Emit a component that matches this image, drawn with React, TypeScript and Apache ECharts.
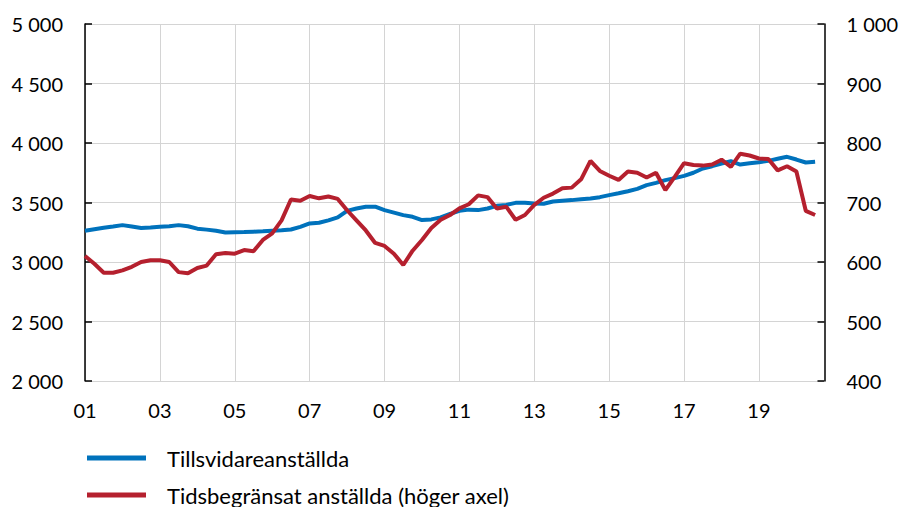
import React, { useEffect, useRef } from "react";
import * as echarts from "echarts";

const years = ["01","02","03","04","05","06","07","08","09","10","11","12","13","14","15","16","17","18","19","20"];
const quarters = ["Q1","Q2","Q3","Q4"];
const categories: string[] = [];
years.forEach((y) => quarters.forEach((q) => categories.push(y + q)));

const seriesNames = ["Tillsvidareanställda", "Tidsbegränsat anställda (höger axel)"];

const permanent = [
  3262, 3275, 3287, 3298, 3310, 3298, 3285, 3290, 3296, 3300,
  3310, 3300, 3280, 3272, 3262, 3248, 3250, 3252, 3255, 3258,
  3262, 3266, 3273, 3295, 3324, 3330, 3350, 3375, 3430, 3450,
  3464, 3465, 3436, 3415, 3394, 3380, 3352, 3358, 3375, 3405,
  3430, 3440, 3436, 3450, 3472, 3480, 3497, 3497, 3492, 3490,
  3508, 3515, 3520, 3527, 3534, 3545, 3562, 3578, 3595, 3615,
  3646, 3665, 3688, 3705, 3724, 3750, 3786, 3805, 3828, 3847,
  3819, 3830, 3839, 3850, 3867, 3884, 3861, 3836, 3842,
];

const temporary = [
  610, 597, 582, 582, 586, 592, 600, 603, 603, 600,
  583, 581, 590, 594, 613, 615, 614, 620, 618, 637,
  648, 670, 705, 703, 711, 707, 710, 706, 687, 670,
  653, 632, 627, 614, 595, 619, 637, 657, 671, 679,
  690, 697, 712, 709, 690, 693, 671, 679, 696, 708,
  715, 724, 725, 739, 770, 753, 745, 738, 752, 750,
  742, 750, 721, 743, 766, 763, 762, 764, 772, 760,
  782, 779, 774, 773, 754, 761, 752, 686, 679,
];

const fmt = (v: number) => {
  const s = String(Math.round(v));
  return s.length > 3 ? s.slice(0, s.length - 3) + " " + s.slice(-3) : s;
};

const FONT = "Lato";
const BLUE = "#0072BC";
const RED = "#B5202E";
const GRID = "#D4D4D4";

export default function App() {
  const ref = useRef<HTMLDivElement>(null);
  useEffect(() => {
    if (!ref.current) return;
    const chart = echarts.init(ref.current, undefined, { renderer: "svg" });
    const legendText = {
      fontFamily: FONT,
      fontSize: 22,
      color: "#000",
      lineHeight: 24,
      padding: [0, 0, 0, 16],
    };
    const legendBase = {
      left: 87,
      padding: 0,
      icon: "rect",
      itemWidth: 59,
      itemHeight: 5,
      textStyle: legendText,
      selectedMode: false,
    };
    chart.setOption({
      animation: false,
      textStyle: { fontFamily: FONT },
      grid: { left: 85, right: 75, top: 24, bottom: 126, containLabel: false },
      legend: [
        { ...legendBase, data: [seriesNames[0]], top: 446 },
        { ...legendBase, data: [seriesNames[1]], top: 483 },
      ],
      xAxis: {
        type: "category",
        data: categories,
        boundaryGap: false,
        axisLine: { show: true, lineStyle: { color: GRID, width: 1 } },
        axisTick: { show: false },
        axisLabel: {
          interval: (i: number) => i % 8 === 0,
          formatter: (v: string) => v.slice(0, 2),
          fontFamily: FONT,
          fontSize: 20,
          color: "#000",
          margin: 19,
        },
        splitLine: {
          show: true,
          interval: (i: number) => i % 8 === 0,
          lineStyle: { color: GRID, width: 1 },
        },
      },
      yAxis: [
        {
          type: "value",
          min: 2000,
          max: 5000,
          interval: 500,
          position: "left",
          axisLine: { show: true, lineStyle: { color: "#000", width: 1.5 } },
          axisTick: { show: true, inside: true, length: 7, lineStyle: { color: "#000", width: 1.5 } },
          axisLabel: { formatter: fmt, fontFamily: FONT, fontSize: 20, color: "#000", margin: 22 },
          splitLine: { show: true, lineStyle: { color: GRID, width: 1 } },
        },
        {
          type: "value",
          min: 400,
          max: 1000,
          interval: 100,
          position: "right",
          axisLine: { show: true, lineStyle: { color: "#000", width: 1.5 } },
          axisTick: { show: true, inside: true, length: 7, lineStyle: { color: "#000", width: 1.5 } },
          axisLabel: { formatter: fmt, fontFamily: FONT, fontSize: 20, color: "#000", margin: 22 },
          splitLine: { show: false },
        },
      ],
      series: [
        {
          name: seriesNames[0],
          type: "line",
          yAxisIndex: 0,
          data: permanent,
          showSymbol: false,
          symbol: "none",
          lineStyle: { color: BLUE, width: 4 },
          itemStyle: { color: BLUE },
          z: 3,
        },
        {
          name: seriesNames[1],
          type: "line",
          yAxisIndex: 1,
          data: temporary,
          showSymbol: false,
          symbol: "none",
          lineStyle: { color: RED, width: 4 },
          itemStyle: { color: RED },
          z: 4,
        },
      ],
    });
    return () => chart.dispose();
  }, []);
  return <div ref={ref} style={{ width: 901, height: 507, position: "absolute", left: 0, top: 0 }} />;
}
